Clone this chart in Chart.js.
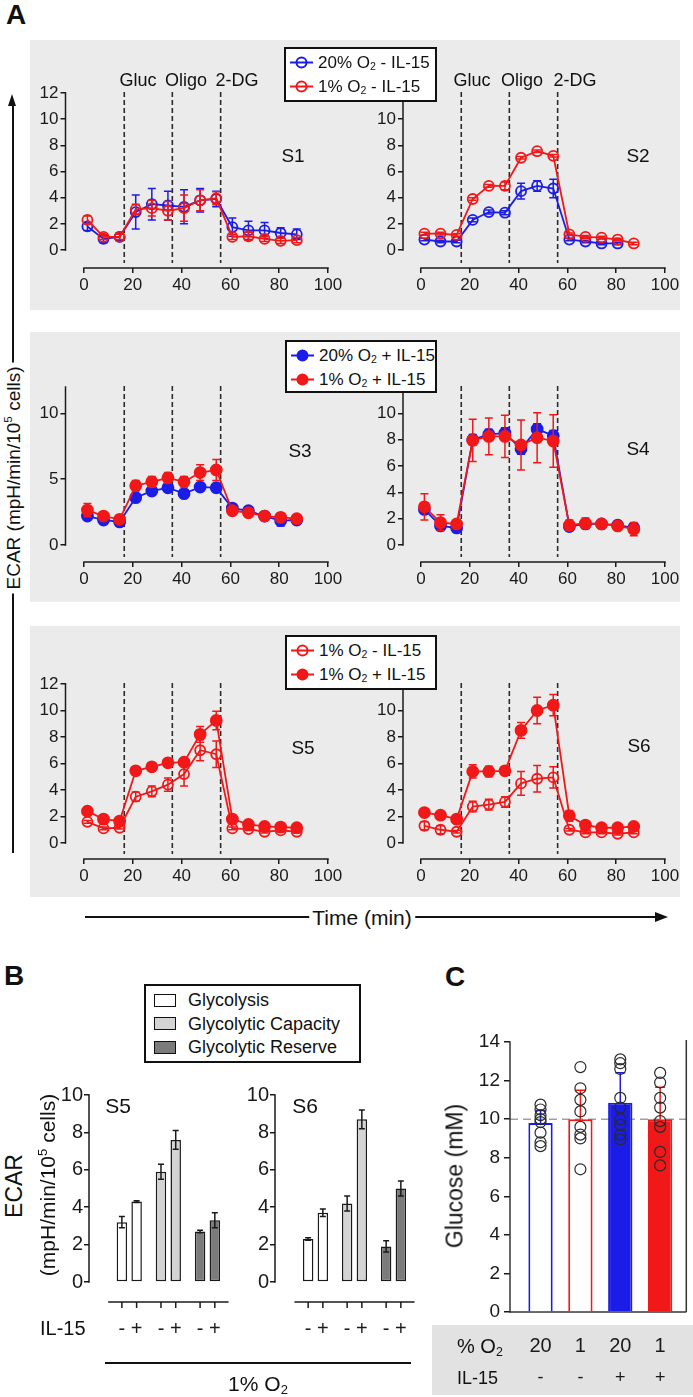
<!DOCTYPE html>
<html><head><meta charset="utf-8"><title>ECAR and glucose figure</title>
<script src="https://cdn.jsdelivr.net/npm/chart.js@4.4.1/dist/chart.umd.min.js"></script>
<style>
html,body{margin:0;padding:0;background:#fff;}
#root{position:relative;width:693px;height:1397px;overflow:hidden;font-family:"Liberation Sans",Arial,Helvetica,sans-serif;color:#111;}
#root canvas{position:absolute;}
.t{position:absolute;white-space:nowrap;line-height:1;}
.c{transform:translate(-50%,-50%);}
.l{transform:translate(0,-50%);}
.rot{transform:translate(-50%,-50%) rotate(-90deg);}
sub{font-size:0.62em;vertical-align:-0.28em;line-height:0;}
sup{font-size:0.62em;vertical-align:0.6em;line-height:0;}
.leg{position:absolute;background:#fff;border:2px solid #111;box-sizing:border-box;}
</style></head>
<body><div id="root"></div>
<script>
// ================= DATA =================
const times = [1.4, 8.0, 14.6, 21.2, 27.8, 34.4, 41.0, 47.6, 54.2, 60.8, 67.4, 74.0, 80.6, 87.2];
const injectionTimes = [16.5, 36.2, 56.0];
const injectionNames = ['Gluc', 'Oligo', '2-DG'];
const timeTicks = [0, 20, 40, 60, 80, 100];
const ecarTicks = [0, 2, 4, 6, 8, 10, 12];
const ecarTicksS3 = [0, 5, 10];

// S1 (-IL-15)
const s1_o2_20_noIL = [1.8, 0.85, 1.0, 2.9, 3.5, 3.4, 3.3, 3.8, 3.9, 1.75, 1.5, 1.5, 1.3, 1.2];
const s1_o2_20_noIL_err = [0.3, 0.3, 0.3, 1.3, 1.2, 1.1, 1.3, 0.9, 0.6, 0.7, 0.7, 0.6, 0.4, 0.4];
const s1_o2_1_noIL = [2.3, 1.0, 1.0, 3.1, 3.2, 3.0, 3.2, 3.8, 3.95, 1.0, 1.05, 0.85, 0.7, 0.75];
const s1_o2_1_noIL_err = [0.3, 0.2, 0.2, 0.4, 0.6, 0.7, 1.0, 0.8, 0.5, 0.2, 0.3, 0.2, 0.2, 0.2];
// S2 (-IL-15)
const s2_o2_20_noIL = [0.8, 0.65, 0.65, 2.3, 2.9, 2.85, 4.5, 4.9, 4.7, 0.8, 0.65, 0.5, 0.5, null];
const s2_o2_20_noIL_err = [0.1, 0.1, 0.1, 0.15, 0.15, 0.15, 0.6, 0.4, 0.7, 0.1, 0.1, 0.1, 0.1, null];
const s2_o2_1_noIL = [1.25, 1.25, 1.15, 3.9, 4.9, 4.9, 7.05, 7.55, 7.2, 1.2, 1.0, 0.95, 0.8, 0.5];
const s2_o2_1_noIL_err = [0.1, 0.1, 0.1, 0.1, 0.1, 0.3, 0.1, 0.1, 0.1, 0.1, 0.1, 0.1, 0.1, 0.1];
// S3 (+IL-15)
const s3_o2_20_IL = [2.2, 1.9, 1.75, 3.6, 4.1, 4.35, 3.9, 4.4, 4.35, 2.8, 2.6, 2.2, 1.85, 1.9];
const s3_o2_20_IL_err = [0.2, 0.2, 0.2, 0.2, 0.2, 0.3, 0.2, 0.3, 0.3, 0.2, 0.2, 0.2, 0.4, 0.2];
const s3_o2_1_IL = [2.65, 2.2, 1.95, 4.5, 4.8, 5.1, 4.8, 5.5, 5.7, 2.6, 2.45, 2.2, 2.1, 2.0];
const s3_o2_1_IL_err = [0.5, 0.2, 0.2, 0.4, 0.4, 0.4, 0.4, 0.6, 0.8, 0.2, 0.2, 0.2, 0.3, 0.2];
// S4 (+IL-15)
const s4_o2_20_IL = [2.7, 1.45, 1.3, 8.0, 8.4, 8.5, 7.3, 8.8, 8.3, 1.4, 1.6, 1.6, 1.5, 1.3];
const s4_o2_20_IL_err = [0.3, 0.3, 0.3, 0.4, 0.4, 0.4, 0.4, 0.4, 0.4, 0.3, 0.3, 0.3, 0.3, 0.3];
const s4_o2_1_IL = [2.9, 1.7, 1.6, 7.95, 8.25, 8.25, 7.6, 8.15, 7.9, 1.5, 1.65, 1.6, 1.45, 1.2];
const s4_o2_1_IL_err = [1.0, 0.6, 0.3, 1.6, 1.4, 1.6, 1.9, 1.9, 2.0, 0.4, 0.4, 0.3, 0.2, 0.5];
// S5 (1% O2)
const s5_noIL = [1.6, 1.1, 1.15, 3.5, 3.9, 4.4, 5.2, 7.0, 6.7, 1.1, 1.05, 0.85, 0.95, 0.85];
const s5_noIL_err = [0.1, 0.1, 0.1, 0.35, 0.4, 0.5, 0.9, 0.8, 1.0, 0.1, 0.1, 0.1, 0.1, 0.1];
const s5_IL = [2.4, 1.8, 1.65, 5.45, 5.75, 6.05, 6.1, 8.2, 9.25, 1.8, 1.4, 1.25, 1.2, 1.15];
const s5_IL_err = [0.15, 0.15, 0.15, 0.3, 0.3, 0.3, 0.2, 0.6, 0.7, 0.15, 0.15, 0.15, 0.1, 0.1];
// S6 (1% O2)
const s6_noIL = [1.3, 1.0, 0.85, 2.75, 2.9, 3.1, 4.5, 4.85, 4.95, 1.0, 0.8, 0.8, 0.7, 0.8];
const s6_noIL_err = [0.3, 0.3, 0.1, 0.4, 0.4, 0.4, 0.9, 1.0, 0.8, 0.1, 0.1, 0.1, 0.1, 0.1];
const s6_IL = [2.3, 2.1, 1.8, 5.4, 5.4, 5.45, 8.5, 10.0, 10.4, 2.05, 1.35, 1.15, 1.15, 1.25];
const s6_IL_err = [0.15, 0.15, 0.15, 0.5, 0.4, 0.2, 0.6, 1.0, 0.8, 0.4, 0.3, 0.1, 0.1, 0.1];

// Panel B
const glycoParams = ['Glycolysis', 'Glycolytic Capacity', 'Glycolytic Reserve'];
const ecarTicksB = [0, 2, 4, 6, 8, 10];
const il15Signs = ['-', '+'];
const b_s5_noIL = [3.2, 5.9, 2.7];
const b_s5_noIL_err = [0.3, 0.4, 0.07];
const b_s5_IL = [4.3, 7.6, 3.3];
const b_s5_IL_err = [0.05, 0.5, 0.4];
const b_s6_noIL = [2.3, 4.2, 1.9];
const b_s6_noIL_err = [0.07, 0.4, 0.3];
const b_s6_IL = [3.7, 8.7, 5.0];
const b_s6_IL_err = [0.2, 0.5, 0.4];

// Panel C
const glucoseGroupsO2 = ['20', '1', '20', '1'];
const glucoseGroupsIL15 = ['-', '-', '+', '+'];
const glucoseTicks = [0, 2, 4, 6, 8, 10, 12, 14];
const glucoseMean = [9.8, 10.0, 10.85, 10.0];
const glucoseErr = [0.65, 1.5, 1.55, 1.65];
const glucose_20_noIL = [10.75, 10.5, 10.2, 10.0, 9.85, 9.3, 8.8, 8.6];
const glucose_1_noIL = [12.7, 11.6, 11.0, 10.4, 9.6, 9.2, 9.0, 7.4];
const glucose_20_IL = [13.1, 12.9, 12.6, 11.1, 10.6, 10.0, 9.7, 9.2, 8.95];
const glucose_1_IL = [12.4, 11.9, 11.1, 10.6, 9.9, 9.6, 8.3, 7.6];
const glucoseReference = 10;

// ================= STYLE =================
const FONT = '"Liberation Sans", Arial, Helvetica, sans-serif';
const BLUE = '#1c1ce8', RED = '#f01818', INK = '#1a1a1a';
const PANEL_GRAY = '#ebebeb';
const phaseFills = ['#ffffff', '#d4d4d4', '#7b7b7b'];
Chart.defaults.font.family = FONT;
Chart.defaults.color = INK;

const root = document.getElementById('root');
function add(tag, css, html) { const e = document.createElement(tag); if (css) e.style.cssText = css; if (html != null) e.innerHTML = html; root.appendChild(e); return e; }
function text(html, x, y, size, cls, extra) { const e = add('div', `left:${x}px;top:${y}px;font-size:${size}px;${extra || ''}`, html); e.className = 't ' + (cls || 'c'); return e; }
function canvasAt(l, t, w, h) { const c = document.createElement('canvas'); c.width = w; c.height = h; c.style.left = l + 'px'; c.style.top = t + 'px'; c.style.width = w + 'px'; c.style.height = h + 'px'; root.appendChild(c); return c; }

function drawErrors(chart, index, mode, cap) {
  const ds = chart.data.datasets[index];
  if (!ds.errors) return;
  const meta = chart.getDatasetMeta(index), y = chart.scales.y, ctx = chart.ctx;
  ctx.save(); ctx.lineWidth = 1.5; ctx.setLineDash([]);
  meta.data.forEach((pt, j) => {
    const e = ds.errors[j], raw = ds.data[j], v = raw ? raw.y : null;
    if (e == null || v == null) return;
    const col = ds.errColor || ds.borderColor;
    ctx.strokeStyle = Array.isArray(col) ? col[j] : col;
    const px = pt.x, top = y.getPixelForValue(v + e);
    const bot = mode === 'upper' ? y.getPixelForValue(v) : y.getPixelForValue(v - e);
    ctx.beginPath();
    ctx.moveTo(px, top); ctx.lineTo(px, bot);
    ctx.moveTo(px - cap, top); ctx.lineTo(px + cap, top);
    if (mode !== 'upper') { ctx.moveTo(px - cap, bot); ctx.lineTo(px + cap, bot); }
    ctx.stroke();
  });
  ctx.restore();
}

function tickCfg(values, size, len, pad, fit) {
  return {
    afterBuildTicks: s => { s.ticks = values.map(v => ({ value: v })); },
    afterFit: fit,
    grid: { drawOnChartArea: false, drawTicks: true, tickLength: len, color: INK, lineWidth: 1.5 },
    border: { display: false },
    ticks: { font: { family: FONT, size: size }, color: INK, padding: pad, maxRotation: 0, autoSkip: false }
  };
}
// an index axis that is laid out like a normal axis but draws nothing itself
function silentX(min, max, tickValues) {
  return {
    type: 'linear', min: min, max: max, offset: false,
    afterBuildTicks: s => { s.ticks = tickValues.map(v => ({ value: v })); },
    afterFit: s => { s.height = 0; },
    grid: { display: false },
    border: { display: false },
    ticks: { display: false }
  };
}

// ================= PANEL A =================
add('div', `position:absolute;left:30px;top:40px;width:650px;height:270px;background:${PANEL_GRAY}`);
add('div', `position:absolute;left:30px;top:332px;width:650px;height:270px;background:${PANEL_GRAY}`);
add('div', `position:absolute;left:30px;top:626px;width:650px;height:271px;background:${PANEL_GRAY}`);

function lineChart(geo, series, yTicks) {
  const [cl, ct, cw, ch] = geo.canvas, [L, T, R, B] = geo.area;
  const cv = canvasAt(cl, ct, cw, ch);
  const xp = (R - geo.x0) / 100, xmin = -(geo.x0 - L) / xp;
  const yp = (geo.y0 - T) / 12, ymin = -(B - geo.y0) / yp;
  const YW = 34, XH = 30;
  const plugin = {
    id: 'lineFig',
    beforeDatasetsDraw(chart) {
      const { ctx, chartArea: a, scales: { x, y } } = chart;
      ctx.save();
      ctx.strokeStyle = '#2b2b2b'; ctx.lineWidth = 1.6; ctx.setLineDash([5, 3]);
      injectionTimes.forEach(v => { const px = x.getPixelForValue(v); ctx.beginPath(); ctx.moveTo(px, a.top - 1); ctx.lineTo(px, a.bottom - 5); ctx.stroke(); });
      ctx.setLineDash([]);
      ctx.strokeStyle = INK; ctx.lineWidth = 1.5;
      ctx.beginPath(); ctx.moveTo(a.left, y.getPixelForValue(0) + 0.75); ctx.lineTo(a.left, y.getPixelForValue(12) - 0.75); ctx.stroke();
      ctx.beginPath(); ctx.moveTo(x.getPixelForValue(0) - 0.75, a.bottom); ctx.lineTo(x.getPixelForValue(100) + 0.75, a.bottom); ctx.stroke();
      ctx.restore();
    },
    afterDatasetDraw(chart, args) { drawErrors(chart, args.index, 'both', 4); }
  };
  return new Chart(cv, {
    type: 'line',
    data: {
      datasets: series.map(s => ({
        label: s.label,
        data: times.map((t, i) => ({ x: t, y: s.values[i] })),
        errors: s.err,
        borderColor: s.color,
        backgroundColor: s.filled ? s.color : 'rgba(0,0,0,0)',
        pointBorderColor: s.color,
        pointBackgroundColor: s.filled ? s.color : 'rgba(0,0,0,0)',
        pointRadius: s.filled ? 5.5 : 5, pointBorderWidth: 1.8, pointHoverRadius: 0,
        borderWidth: 1.8, tension: 0, fill: false, clip: false, order: s.order
      }))
    },
    options: {
      responsive: false, animation: false, events: [],
      layout: { padding: { left: L - cl - YW, top: T - ct, right: cl + cw - R, bottom: ct + ch - B - XH } },
      plugins: { legend: { display: false }, tooltip: { enabled: false } },
      scales: {
        x: Object.assign({ type: 'linear', min: xmin, max: 100 }, tickCfg(timeTicks, 17, 5, 2, s => { s.height = XH; })),
        y: Object.assign({ type: 'linear', min: ymin, max: 12 }, tickCfg(yTicks, 17, 5, 2, s => { s.width = YW; }))
      }
    },
    plugins: [plugin]
  });
}

const LEFT_GEO = (top, h, T, y0, B) => ({ canvas: [30, top, 320, h], area: [65.5, T, 328, B], x0: 84, y0: y0 });
const RIGHT_GEO = (top, h, T, y0, B) => ({ canvas: [350, top, 343, h], area: [403, T, 665, B], x0: 421, y0: y0 });

lineChart(LEFT_GEO(40, 270, 93, 250, 268), [
  { label: '20% O2 - IL-15', values: s1_o2_20_noIL, err: s1_o2_20_noIL_err, color: BLUE, filled: false, order: 2 },
  { label: '1% O2 - IL-15', values: s1_o2_1_noIL, err: s1_o2_1_noIL_err, color: RED, filled: false, order: 1 }
], ecarTicks);
lineChart(RIGHT_GEO(40, 270, 93, 250, 268), [
  { label: '20% O2 - IL-15', values: s2_o2_20_noIL, err: s2_o2_20_noIL_err, color: BLUE, filled: false, order: 2 },
  { label: '1% O2 - IL-15', values: s2_o2_1_noIL, err: s2_o2_1_noIL_err, color: RED, filled: false, order: 1 }
], ecarTicks);
lineChart(LEFT_GEO(332, 270, 387, 545, 562), [
  { label: '20% O2 + IL-15', values: s3_o2_20_IL, err: s3_o2_20_IL_err, color: BLUE, filled: true, order: 2 },
  { label: '1% O2 + IL-15', values: s3_o2_1_IL, err: s3_o2_1_IL_err, color: RED, filled: true, order: 1 }
], ecarTicksS3);
lineChart(RIGHT_GEO(332, 270, 387, 545, 562), [
  { label: '20% O2 + IL-15', values: s4_o2_20_IL, err: s4_o2_20_IL_err, color: BLUE, filled: true, order: 2 },
  { label: '1% O2 + IL-15', values: s4_o2_1_IL, err: s4_o2_1_IL_err, color: RED, filled: true, order: 1 }
], ecarTicks);
lineChart(LEFT_GEO(626, 271, 684, 843, 859), [
  { label: '1% O2 - IL-15', values: s5_noIL, err: s5_noIL_err, color: RED, filled: false, order: 2 },
  { label: '1% O2 + IL-15', values: s5_IL, err: s5_IL_err, color: RED, filled: true, order: 1 }
], ecarTicks);
lineChart(RIGHT_GEO(626, 271, 684, 843, 859), [
  { label: '1% O2 - IL-15', values: s6_noIL, err: s6_noIL_err, color: RED, filled: false, order: 2 },
  { label: '1% O2 + IL-15', values: s6_IL, err: s6_IL_err, color: RED, filled: true, order: 1 }
], ecarTicks);

// injection labels
[[138, 186, 237], [472, 522, 575]].forEach(xs => xs.forEach((x, i) => text(injectionNames[i], x, 80, 18)));
// S labels
[['S1', 293, 155], ['S2', 638, 155], ['S3', 300, 450], ['S4', 638, 448], ['S5', 303, 747], ['S6', 639, 745]]
  .forEach(([s, x, y]) => text(s, x, y, 19));

function legendBox(l, t, w, h, items) {
  const box = add('div', `left:${l}px;top:${t}px;width:${w}px;height:${h}px`);
  box.className = 'leg';
  items.forEach((it, i) => {
    const row = document.createElement('div');
    row.style.cssText = `position:absolute;left:4px;top:${13 + i * 24}px;transform:translateY(-50%);white-space:nowrap;font-size:17px;line-height:1;display:flex;align-items:center;`;
    const fill = it.filled ? it.color : 'none';
    row.innerHTML = `<svg width="23" height="14" style="margin-right:5px"><line x1="0" y1="7" x2="23" y2="7" stroke="${it.color}" stroke-width="2"/><circle cx="11.5" cy="7" r="5" fill="${fill}" stroke="${it.color}" stroke-width="2"/></svg><span>${it.label}</span>`;
    box.appendChild(row);
  });
}
legendBox(284, 47, 153, 55, [
  { label: '20% O<sub>2</sub> - IL-15', color: BLUE, filled: false },
  { label: '1% O<sub>2</sub> - IL-15', color: RED, filled: false }]);
legendBox(285, 340, 152, 53, [
  { label: '20% O<sub>2</sub> + IL-15', color: BLUE, filled: true },
  { label: '1% O<sub>2</sub> + IL-15', color: RED, filled: true }]);
legendBox(285, 635, 152, 55, [
  { label: '1% O<sub>2</sub> - IL-15', color: RED, filled: false },
  { label: '1% O<sub>2</sub> + IL-15', color: RED, filled: true }]);

// Panel letters
text('A', 16, 15, 28, 'c', 'font-weight:bold');
text('B', 14, 976, 28, 'c', 'font-weight:bold');
text('C', 455, 977, 28, 'c', 'font-weight:bold');

// ECAR vertical arrow
add('div', 'position:absolute;left:11.5px;top:104px;width:2px;height:749px;background:#111');
add('div', 'position:absolute;left:8px;top:94px;width:0;height:0;border-left:4.5px solid transparent;border-right:4.5px solid transparent;border-bottom:12px solid #111');
text('ECAR (mpH/min/10<sup>5</sup> cells)', 13, 478, 19, 'rot', 'background:#fff;padding:0 4px');
// Time arrow
add('div', 'position:absolute;left:85px;top:916px;width:572px;height:2px;background:#111');
add('div', 'position:absolute;left:655px;top:912px;width:0;height:0;border-top:5px solid transparent;border-bottom:5px solid transparent;border-left:13px solid #111');
text('Time (min)', 362, 917, 21, 'c', 'background:#fff;padding:0 3px');

// ================= PANEL B =================
const bLeg = add('div', 'left:144px;top:984px;width:217px;height:79px');
bLeg.className = 'leg';
glycoParams.forEach((p, i) => {
  const row = document.createElement('div');
  row.style.cssText = `position:absolute;left:8px;top:${14 + i * 23.5}px;transform:translateY(-50%);white-space:nowrap;font-size:18px;line-height:1;display:flex;align-items:center;`;
  row.innerHTML = `<span style="display:inline-block;width:20px;height:11px;border:1.5px solid #111;background:${phaseFills[i]};margin-right:12px"></span><span>${p}</span>`;
  bLeg.appendChild(row);
});

function barChartB(geo, noIL, noILErr, IL, ILErr) {
  const [cl, ct, cw, ch] = geo.canvas;
  const L = geo.axisX, T = geo.top10, B = geo.baseY;
  const xmin = -(geo.c0 - L) / geo.step, xmax = 2.6, R = geo.c0 + xmax * geo.step;
  const yp = (geo.y0 - T) / 10, ymin = -(B - geo.y0) / yp;
  const YW = 46;
  const cv = canvasAt(cl, ct, cw, ch);
  const plugin = {
    id: 'barB',
    beforeDatasetsDraw(chart) {
      const { ctx, chartArea: a, scales: { x, y } } = chart;
      ctx.save(); ctx.strokeStyle = INK; ctx.lineWidth = 1.5;
      ctx.beginPath(); ctx.moveTo(a.left, y.getPixelForValue(0) + 0.75); ctx.lineTo(a.left, y.getPixelForValue(10) - 0.75); ctx.stroke();
      ctx.beginPath(); ctx.moveTo(x.getPixelForValue(-0.54), a.bottom); ctx.lineTo(x.getPixelForValue(2.54), a.bottom); ctx.stroke();
      ctx.fillStyle = INK; ctx.font = `20px ${FONT}`; ctx.textAlign = 'center'; ctx.textBaseline = 'middle';
      chart.data.datasets.forEach((ds, k) => {
        chart.getDatasetMeta(k).data.forEach(bar => {
          ctx.beginPath(); ctx.moveTo(bar.x, a.bottom); ctx.lineTo(bar.x, a.bottom + 6); ctx.stroke();
          ctx.fillText(il15Signs[k], bar.x, a.bottom + 27);
        });
      });
      ctx.restore();
    },
    afterDatasetDraw(chart, args) { drawErrors(chart, args.index, 'both', 3); }
  };
  return new Chart(cv, {
    type: 'bar',
    data: {
      datasets: [[noIL, noILErr], [IL, ILErr]].map(([vals, err], k) => ({
        label: il15Signs[k] + ' IL-15',
        data: vals.map((v, i) => ({ x: i, y: v })),
        errors: err, errColor: INK,
        backgroundColor: phaseFills, borderColor: INK, borderWidth: 1.5, borderSkipped: false,
        categoryPercentage: 0.754, barPercentage: 0.71
      }))
    },
    options: {
      responsive: false, animation: false, events: [],
      layout: { padding: { left: L - cl - YW, top: T - ct, right: cl + cw - R, bottom: ct + ch - B } },
      plugins: { legend: { display: false }, tooltip: { enabled: false } },
      scales: {
        x: silentX(xmin, xmax, [0, 1, 2]),
        y: Object.assign({ type: 'linear', min: ymin, max: 10 }, tickCfg(ecarTicksB, 20, 5, 1, s => { s.width = YW; }))
      }
    },
    plugins: [plugin]
  });
}
barChartB({ canvas: [38, 1070, 200, 275], axisX: 89, top10: 1095, y0: 1282, baseY: 1302, c0: 129.25, step: 39.1 },
  b_s5_noIL, b_s5_noIL_err, b_s5_IL, b_s5_IL_err);
barChartB({ canvas: [225, 1070, 205, 275], axisX: 275, top10: 1095, y0: 1282, baseY: 1302, c0: 315.5, step: 39.0 },
  b_s6_noIL, b_s6_noIL_err, b_s6_IL, b_s6_IL_err);

text('S5', 118, 1105, 21);
text('S6', 305, 1105, 21);
text('ECAR', 14, 1186, 23, 'rot');
text('(mpH/min/10<sup>5</sup> cells)', 47, 1185, 21, 'rot');
text('IL-15', 40, 1328, 20, 'l');
add('div', 'position:absolute;left:105px;top:1362px;width:306px;height:2px;background:#111');
text('1% O<sub>2</sub>', 258, 1383, 21);

// ================= PANEL C =================
add('div', 'position:absolute;left:432px;top:1325px;width:261px;height:70px;background:#e2e2e2');
(function glucoseChart() {
  const cl = 430, ct = 1020, cw = 263, ch = 377;
  const L = 510, T = 1042, B = 1312, R = 692, c0 = 541.5, step = 41.17, YW = 40;
  const cv = canvasAt(cl, ct, cw, ch);
  const points = [glucose_20_noIL, glucose_1_noIL, glucose_20_IL, glucose_1_IL]
    .flatMap((arr, i) => arr.map(v => ({ x: i, y: v })));
  const plugin = {
    id: 'glucose',
    beforeDatasetsDraw(chart) {
      const { ctx, chartArea: a, scales: { y } } = chart;
      ctx.save();
      ctx.strokeStyle = '#a0a0a0'; ctx.lineWidth = 1.5; ctx.setLineDash([8, 5]);
      const py = y.getPixelForValue(glucoseReference);
      ctx.beginPath(); ctx.moveTo(a.left, py); ctx.lineTo(a.right, py); ctx.stroke();
      ctx.setLineDash([]); ctx.strokeStyle = '#333'; ctx.lineWidth = 1.5;
      ctx.beginPath(); ctx.moveTo(a.left, a.bottom + 0.75); ctx.lineTo(a.left, y.getPixelForValue(14) - 0.75); ctx.stroke();
      ctx.beginPath(); ctx.moveTo(a.left, a.bottom); ctx.lineTo(a.right, a.bottom); ctx.stroke();
      ctx.beginPath(); ctx.moveTo(a.right, a.bottom); ctx.lineTo(a.right, a.top - 2); ctx.stroke();
      ctx.restore();
    },
    afterDatasetDraw(chart, args) { if (args.index === 0) drawErrors(chart, 0, 'upper', 5); },
    afterDraw(chart) {
      const { ctx } = chart;
      ctx.save(); ctx.fillStyle = INK; ctx.textAlign = 'center'; ctx.textBaseline = 'middle';
      chart.getDatasetMeta(0).data.forEach((bar, i) => {
        ctx.font = `20px ${FONT}`; ctx.fillText(glucoseGroupsO2[i], bar.x, 1346 - ct);
        ctx.font = `18px ${FONT}`; ctx.fillText(glucoseGroupsIL15[i], bar.x, 1378 - ct);
      });
      ctx.restore();
    }
  };
  new Chart(cv, {
    type: 'bar',
    data: {
      datasets: [
        { label: 'Glucose', data: glucoseMean.map((v, i) => ({ x: i, y: v })), errors: glucoseErr,
          backgroundColor: ['#ffffff', '#ffffff', BLUE, RED], borderColor: [BLUE, RED, BLUE, RED], errColor: [BLUE, RED, BLUE, RED],
          borderWidth: 2, borderSkipped: 'start', categoryPercentage: 1, barPercentage: 0.61, order: 2 },
        { type: 'line', label: 'Individual', data: points, showLine: false, pointRadius: 5.5, pointHoverRadius: 0,
          pointBorderColor: '#2a2a2a', pointBackgroundColor: 'rgba(0,0,0,0)', pointBorderWidth: 1.2, borderColor: '#2a2a2a', clip: false, order: 1 }
      ]
    },
    options: {
      responsive: false, animation: false, events: [],
      layout: { padding: { left: L - cl - YW, top: T - ct, right: cl + cw - R, bottom: ct + ch - B } },
      plugins: { legend: { display: false }, tooltip: { enabled: false } },
      scales: {
        x: silentX(-(c0 - L) / step, (R - c0) / step, [0, 1, 2, 3]),
        y: Object.assign({ type: 'linear', min: 0, max: 14 }, tickCfg(glucoseTicks, 19, 6, 4, s => { s.width = YW; }))
      }
    },
    plugins: [plugin]
  });
})();
text('Glucose (mM)', 455, 1176, 23, 'rot');
text('% O<sub>2</sub>', 457, 1346, 20, 'l');
text('IL-15', 457, 1378, 18, 'l');
</script></body></html>
